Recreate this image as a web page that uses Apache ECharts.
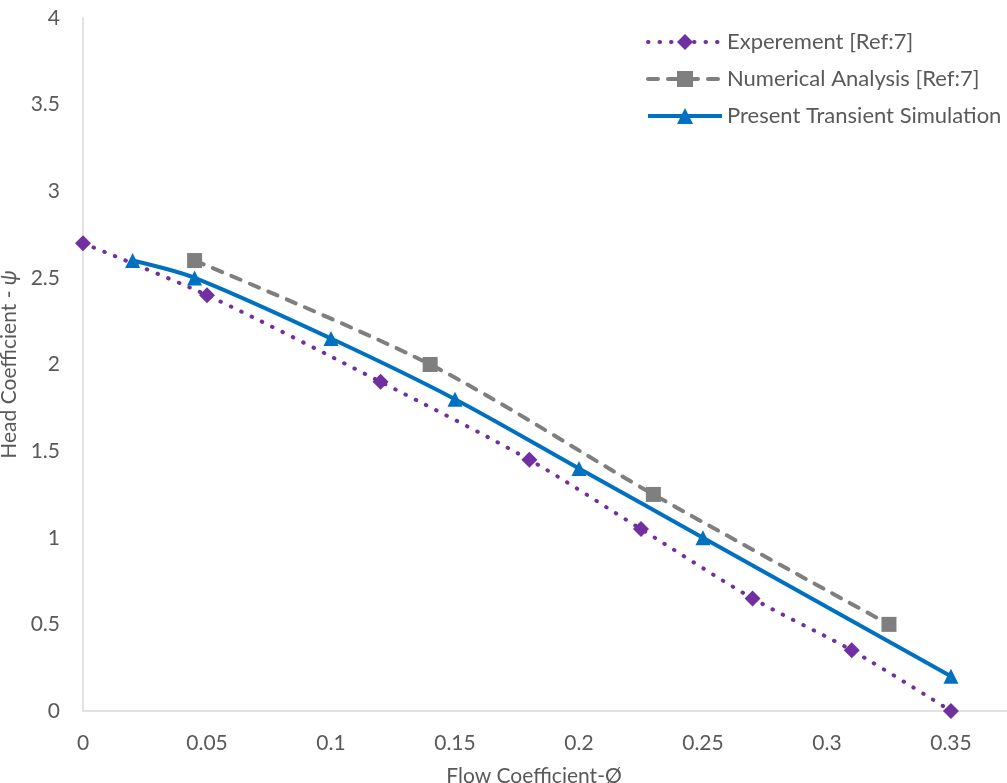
<!DOCTYPE html>
<html><head><meta charset="utf-8">
<script src="https://cdn.jsdelivr.net/npm/echarts@6/dist/echarts.min.js"></script>
<style>html,body{margin:0;padding:0;background:#fff}#c{width:1007px;height:783px}</style>
</head><body><div id="c"></div>
<script>
const expX = [0, 0.05, 0.12, 0.18, 0.225, 0.27, 0.31, 0.35];
const expY = [2.7, 2.4, 1.9, 1.45, 1.05, 0.65, 0.35, 0];
const numX = [0.045, 0.14, 0.23, 0.325];
const numY = [2.6, 2.0, 1.25, 0.5];
const simX = [0.02, 0.045, 0.1, 0.15, 0.2, 0.25, 0.35];
const simY = [2.6, 2.5, 2.15, 1.8, 1.4, 1.0, 0.2];
const seriesNames = ['Experement [Ref:7]', 'Numerical Analysis [Ref:7]', 'Present Transient Simulation'];
const xTitle = 'Flow Coefficient-Ø';
const yTitle = 'Head Coefficient - {i|ψ}';

const zip = (xs, ys) => xs.map((x, i) => [x, ys[i]]);
const font = 'Lato, "Open Sans", sans-serif';
const chart = echarts.init(document.getElementById('c'));
chart.setOption({
  animation: false,
  textStyle: {fontFamily: font},
  grid: {left: 83, right: 0, top: 18, bottom: 72, containLabel: false, outerBoundsMode: 'none'},
  legend: {
    orient: 'vertical', left: 641, top: 26, itemGap: 15, itemWidth: 74, itemHeight: 20,
    lineStyle: {width: 4},
    textStyle: {fontSize: 22, lineHeight: 22, color: '#595959', fontFamily: font},
    data: seriesNames
  },
  xAxis: {
    type: 'value', min: 0, max: 0.3726, interval: 0.05,
    name: xTitle, nameLocation: 'middle', nameGap: 55,
    nameTextStyle: {fontSize: 21, color: '#595959', padding: [0, 22, 0, 0]},
    axisLine: {show: true, lineStyle: {color: '#d9d9d9', width: 1.5}},
    axisTick: {show: false}, splitLine: {show: false},
    axisLabel: {fontSize: 21, color: '#595959', margin: 22, showMaxLabel: false,
      formatter: v => String(+v.toFixed(2))}
  },
  yAxis: {
    type: 'value', min: 0, max: 4, interval: 0.5,
    name: yTitle, nameLocation: 'middle', nameGap: 62, nameRotate: 90,
    nameTextStyle: {fontSize: 21, color: '#595959', rich: {i: {fontSize: 21, color: '#595959', fontStyle: 'italic'}}},
    axisLine: {show: true, lineStyle: {color: '#d9d9d9', width: 1.5}},
    axisTick: {show: false}, splitLine: {show: false},
    axisLabel: {fontSize: 21, color: '#595959', margin: 23}
  },
  series: [
    {
      name: seriesNames[0], type: 'line', data: zip(expX, expY), smooth: 0.3,
      symbol: 'diamond', symbolSize: 16,
      itemStyle: {color: '#7030A0'},
      lineStyle: {color: '#7030A0', width: 4, type: [0.5, 11], cap: 'round'}
    },
    {
      name: seriesNames[1], type: 'line', data: zip(numX, numY), smooth: 0.3,
      symbol: 'rect', symbolSize: 15,
      itemStyle: {color: '#7f7f7f'},
      lineStyle: {color: '#7f7f7f', width: 4, type: [10, 10], cap: 'round'}
    },
    {
      name: seriesNames[2], type: 'line', data: zip(simX, simY), smooth: 0.3,
      symbol: 'triangle', symbolSize: 15,
      itemStyle: {color: '#0070C0'},
      lineStyle: {color: '#0070C0', width: 4}
    }
  ]
});
</script></body></html>
